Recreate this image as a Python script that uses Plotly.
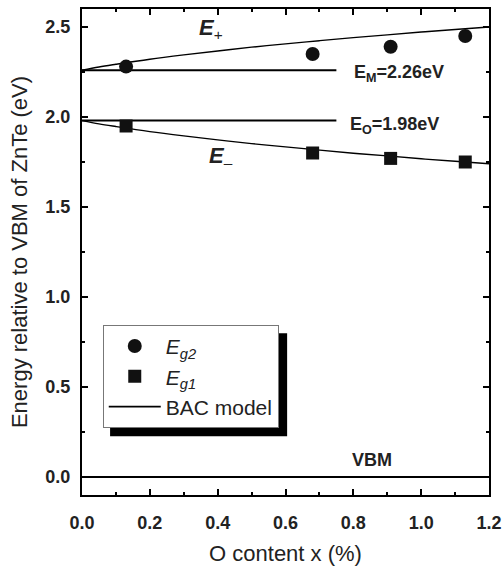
import plotly.graph_objects as go

# Measured band-gap energies (eV) vs O content x (%)
x_meas = [0.13, 0.68, 0.91, 1.13]
eg2 = [2.28, 2.35, 2.39, 2.45]
eg1 = [1.95, 1.80, 1.77, 1.75]

# BAC model branches E+ and E- (eV)
x_bac = [0.0, 0.05, 0.1, 0.2, 0.3, 0.4, 0.5, 0.6, 0.7, 0.8, 0.9, 1.0, 1.1, 1.2]
e_plus = [2.260, 2.278, 2.293, 2.321, 2.345, 2.367, 2.388, 2.406, 2.424, 2.441, 2.456, 2.472, 2.486, 2.500]
e_minus = [1.980, 1.962, 1.947, 1.919, 1.895, 1.873, 1.852, 1.834, 1.816, 1.799, 1.784, 1.768, 1.754, 1.740]

# Reference levels
E_M = 2.26
E_O = 1.98
VBM = 0.0
level_x = [0.0, 0.75]
vbm_x = [0.0, 1.2]

TXT = "#222222"
REG = "Liberation Sans, Arial, sans-serif"

fig = go.Figure()

fig.add_trace(go.Scatter(x=level_x, y=[E_M, E_M], mode="lines",
                         line=dict(color="black", width=2), showlegend=False))
fig.add_trace(go.Scatter(x=level_x, y=[E_O, E_O], mode="lines",
                         line=dict(color="black", width=2), showlegend=False))
fig.add_trace(go.Scatter(x=vbm_x, y=[VBM, VBM], mode="lines",
                         line=dict(color="black", width=2), showlegend=False))

fig.add_trace(go.Scatter(x=x_bac, y=e_plus, mode="lines", line_shape="spline",
                         line=dict(color="black", width=1.4), showlegend=False))
fig.add_trace(go.Scatter(x=x_bac, y=e_minus, mode="lines", line_shape="spline",
                         line=dict(color="black", width=1.4), showlegend=False))

fig.add_trace(go.Scatter(x=x_meas, y=eg2, mode="markers", name="<i>E</i><sub><i>g2</i></sub>",
                         marker=dict(symbol="circle", size=14, color="#111111")))
fig.add_trace(go.Scatter(x=x_meas, y=eg1, mode="markers", name="<i>E</i><sub><i>g1</i></sub>",
                         marker=dict(symbol="square", size=13, color="#111111")))
fig.add_trace(go.Scatter(x=[None], y=[None], mode="lines", name="BAC model",
                         line=dict(color="black", width=1.6)))

axis_common = dict(
    showline=True, linecolor="black", linewidth=2, mirror="allticks",
    ticks="inside", ticklen=6, tickwidth=2, tickcolor="black",
    showgrid=False, zeroline=False, automargin=False,
    tickfont=dict(family=REG, size=18, color=TXT, weight="bold"),
)

fig.update_xaxes(
    range=[0, 1.2], dtick=0.2, tickformat=".1f",
    minor=dict(dtick=0.1, ticks="inside", ticklen=3, tickwidth=1.5, tickcolor="black"),
    ticklabelstandoff=10,
    title=dict(text="O content x (%)", font=dict(family=REG, size=22, color=TXT), standoff=14),
    **axis_common,
)
fig.update_yaxes(
    range=[-0.1, 2.6], dtick=0.5, tickformat=".1f",
    minor=dict(dtick=0.25, ticks="inside", ticklen=3, tickwidth=1.5, tickcolor="black"),
    ticklabelstandoff=6,
    title=dict(text="Energy relative to VBM of ZnTe (eV)",
               font=dict(family=REG, size=22, color=TXT), standoff=12),
    **axis_common,
)

ann_font = dict(family=REG, size=18, color=TXT)
fig.add_annotation(x=0.795, y=2.243, xanchor="left", yanchor="middle", showarrow=False,
                   text="<b>E<sub>M</sub>=2.26eV</b>", font=ann_font)
fig.add_annotation(x=0.785, y=1.955, xanchor="left", yanchor="middle", showarrow=False,
                   text="<b>E<sub>O</sub>=1.98eV</b>", font=ann_font)
fig.add_annotation(x=0.856, y=0.093, xanchor="center", yanchor="middle", showarrow=False,
                   text="<b>VBM</b>", font=ann_font)
fig.add_annotation(x=0.38, y=2.49, xanchor="center", yanchor="middle", showarrow=False,
                   text="<b><i>E</i></b><sub>+</sub>", font=dict(family=REG, size=22, color=TXT))
fig.add_annotation(x=0.41, y=1.78, xanchor="center", yanchor="middle", showarrow=False,
                   text="<b><i>E</i></b><sub>\u2013</sub>", font=dict(family=REG, size=22, color=TXT))

# Drop shadow behind the legend box
fig.add_shape(type="rect", xref="paper", yref="paper",
              x0=0.069, x1=0.504, y0=0.121, y1=0.333,
              fillcolor="black", line_width=0, layer="above")

fig.update_layout(
    width=502, height=569,
    margin=dict(l=82, r=13, t=9, b=74),
    plot_bgcolor="white", paper_bgcolor="white",
    legend=dict(x=0.051, y=0.35, xanchor="left", yanchor="top",
                bgcolor="white", bordercolor="#777777", borderwidth=1,
                font=dict(family=REG, size=21, color=TXT),
                itemwidth=52, entrywidth=125, tracegroupgap=0),
)

fig.write_html("out.html")
